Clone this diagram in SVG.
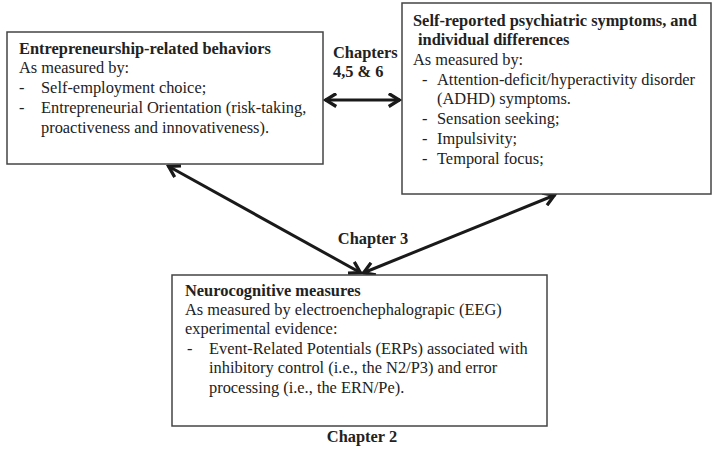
<svg xmlns="http://www.w3.org/2000/svg" width="715" height="451" viewBox="0 0 715 451">
<defs>
<style>
.box{fill:#fff;stroke:#444;stroke-width:1.5}
text{font-family:"Liberation Serif","Times New Roman",serif;font-size:16.4px;fill:#222}
.b{font-weight:bold}
.c{text-anchor:middle;font-weight:bold}
.con{stroke:#1a1a1a;stroke-width:3;fill:none;marker-start:url(#ah);marker-end:url(#ah)}
</style>
<marker id="ah" viewBox="0 0 12 12" refX="10.5" refY="6" markerWidth="5" markerHeight="5" orient="auto-start-reverse" markerUnits="strokeWidth">
<path d="M1.5,0.8 L10,6 L1.5,11.2" fill="none" stroke="#1a1a1a" stroke-width="2.6" stroke-linejoin="miter"/>
</marker>
</defs>
<rect width="715" height="451" fill="#fff"/>
<g id="connectors">
<line class="con" x1="325" y1="100" x2="400" y2="100"/>
<line class="con" x1="168" y1="166" x2="361" y2="273"/>
<line class="con" x1="555" y1="195" x2="363" y2="273"/>
</g>
<g id="entrepreneurship">
<rect class="box" x="7" y="32" width="316" height="132"/>
<text class="b" x="19" y="54">Entrepreneurship-related behaviors</text>
<text x="19" y="73">As measured by:</text>
<text x="19" y="93">-</text><text x="41" y="93">Self-employment choice;</text>
<text x="19" y="113">-</text><text x="41" y="113">Entrepreneurial Orientation (risk-taking,</text>
<text x="41" y="133">proactiveness and innovativeness).</text>
</g>
<g id="psychiatric">
<rect class="box" x="402" y="3" width="309" height="191"/>
<text class="b" x="413" y="26">Self-reported psychiatric symptoms, and</text>
<text class="b" x="418" y="45">individual differences</text>
<text x="413" y="65">As measured by:</text>
<text x="422" y="85">-</text><text x="437" y="85">Attention-deficit/hyperactivity disorder</text>
<text x="437" y="104">(ADHD) symptoms.</text>
<text x="422" y="124">-</text><text x="437" y="124">Sensation seeking;</text>
<text x="422" y="144">-</text><text x="437" y="144">Impulsivity;</text>
<text x="422" y="164">-</text><text x="437" y="164">Temporal focus;</text>
</g>
<g id="neurocognitive">
<rect class="box" x="172" y="275" width="375" height="151"/>
<text class="b" x="185" y="296">Neurocognitive measures</text>
<text x="185" y="315">As measured by electroenchephalograpic (EEG)</text>
<text x="185" y="334">experimental evidence:</text>
<text x="187" y="354">-</text><text x="209" y="354">Event-Related Potentials (ERPs) associated with</text>
<text x="209" y="373">inhibitory control (i.e., the N2/P3) and error</text>
<text x="209" y="393">processing (i.e., the ERN/Pe).</text>
</g>
<g id="labels">
<text class="b" x="333" y="58">Chapters</text>
<text class="b" x="333" y="77">4,5 &amp; 6</text>
<text class="c" x="373" y="244">Chapter 3</text>
<text class="c" x="362" y="442">Chapter 2</text>
</g>
</svg>
